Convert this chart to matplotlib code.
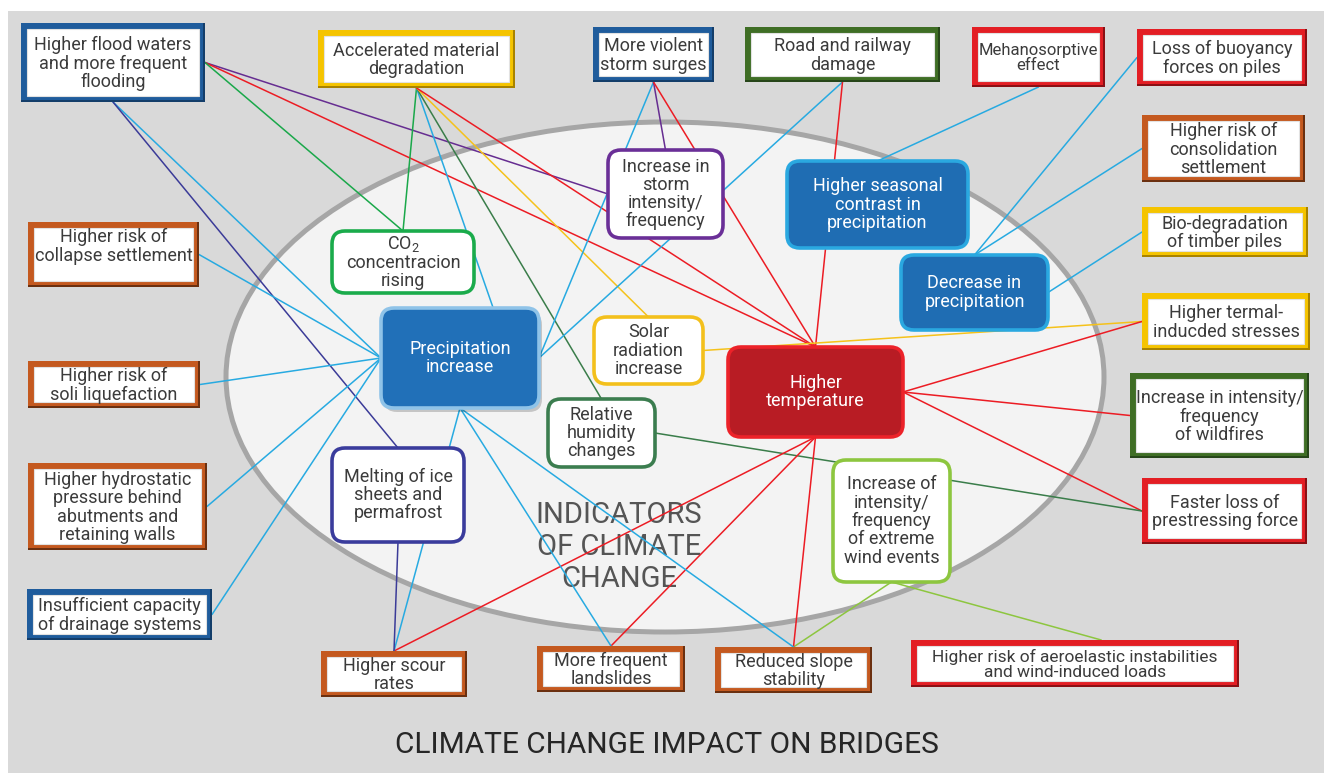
import matplotlib.pyplot as plt
from matplotlib.patches import Rectangle, FancyBboxPatch, Ellipse

plt.rcParams['font.family'] = ['Roboto', 'DejaVu Sans']
plt.rcParams['mathtext.default'] = 'regular'

W, H = 1326, 773

# impact boxes round the edge (x0, y0, x1, y1 in picture pixels)
outer_keys = ['flood', 'accel', 'surge', 'road', 'mehano', 'buoy', 'consol', 'bio',
              'thermal', 'wildfire', 'faster', 'aero', 'slope', 'landslide', 'scour',
              'drain', 'hydro', 'liquef', 'collapse']
outer_labels = ['Higher flood waters\nand more frequent\nflooding',
                'Accelerated material\ndegradation',
                'More violent\nstorm surges',
                'Road and railway\ndamage',
                'Mehanosorptive\neffect',
                'Loss of buoyancy\nforces on piles',
                'Higher risk of\nconsolidation\nsettlement',
                'Bio-degradation\nof timber piles',
                'Higher termal-\ninducded stresses',
                'Increase in intensity/\nfrequency\nof wildfires',
                'Faster loss of\nprestressing force',
                'Higher risk of aeroelastic instabilities\nand wind-induced loads',
                'Reduced slope\nstability',
                'More frequent\nlandslides',
                'Higher scour\nrates',
                'Insufficient capacity\nof drainage systems',
                'Higher hydrostatic\npressure behind\nabutments and\nretaining walls',
                'Higher risk of\nsoli liquefaction',
                'Higher risk of\ncollapse settlement\n ']
outer_boxes = [(21, 23, 205, 102), (318, 30, 515, 88), (593, 27, 714, 82),
               (745, 27, 940, 82), (972, 27, 1105, 87), (1137, 29, 1307, 86),
               (1142, 115, 1305, 182), (1142, 207, 1308, 257), (1142, 293, 1310, 350),
               (1130, 373, 1309, 458), (1142, 478, 1307, 544), (911, 640, 1239, 687),
               (715, 647, 872, 693), (537, 646, 685, 692), (321, 651, 467, 697),
               (27, 589, 212, 640), (28, 463, 207, 550), (28, 361, 200, 408),
               (28, 222, 199, 287)]
outer_frame = ['blue', 'yellow', 'blue', 'green', 'red', 'red', 'brown', 'yellow',
               'yellow', 'green', 'red', 'red', 'brown', 'brown', 'brown', 'blue',
               'brown', 'brown', 'brown']

# climate indicators inside the ellipse
inner_keys = ['storm', 'seasonal', 'decrease', 'co2', 'precip', 'solar', 'temp',
              'humid', 'melt', 'wind']
inner_labels = ['Increase in\nstorm\nintensity/\nfrequency',
                'Higher seasonal\ncontrast in\nprecipitation',
                'Decrease in\nprecipitation',
                'CO$_2$\nconcentracion\nrising',
                'Precipitation\nincrease',
                'Solar\nradiation\nincrease',
                'Higher\ntemperature',
                'Relative\nhumidity\nchanges',
                'Melting of ice\nsheets and\npermafrost',
                'Increase of\nintensity/\nfrequency\nof extreme\nwind events']
inner_boxes = [(608, 150, 723, 238), (787, 161, 968, 248), (901, 255, 1048, 330),
               (332, 231, 474, 293), (381, 308, 539, 408), (594, 317, 703, 384),
               (728, 347, 903, 437), (548, 399, 655, 467), (332, 448, 464, 542),
               (833, 460, 950, 582)]
# (face, edge)
inner_style = [('white', '#6a2f97'), ('#1f6db3', '#2aa8e0'), ('#1f6db3', '#2aa8e0'),
               ('white', '#1aab4b'), ('#2170b8', '#8fc3e8'), ('white', '#f3c01c'),
               ('#b81c24', '#ec2229'), ('white', '#3b7d4f'), ('white', '#3a3c9c'),
               ('white', '#8dc63f')]

# links: source, side, target, side, colour
links = [('flood', 'R', 'storm', 'L', 'purple'), ('flood', 'R', 'temp', 'T', 'red'),
         ('flood', 'R', 'co2', 'T', 'green'), ('flood', 'B', 'precip', 'L', 'lblue'),
         ('flood', 'B', 'melt', 'T', 'indigo'),
         ('accel', 'B', 'co2', 'T', 'green'), ('accel', 'B', 'precip', 'T', 'lblue'),
         ('accel', 'B', 'humid', 'T', 'dgreen'), ('accel', 'B', 'solar', 'T', 'yellow'),
         ('accel', 'B', 'temp', 'T', 'red'),
         ('surge', 'B', 'precip', 'R', 'lblue'), ('surge', 'B', 'storm', 'T', 'purple'),
         ('surge', 'B', 'temp', 'T', 'red'),
         ('road', 'B', 'precip', 'R', 'lblue'), ('road', 'B', 'temp', 'T', 'red'),
         ('mehano', 'B', 'seasonal', 'T', 'lblue'),
         ('buoy', 'L', 'decrease', 'T', 'lblue'), ('consol', 'L', 'decrease', 'T', 'lblue'),
         ('bio', 'L', 'decrease', 'R', 'lblue'),
         ('solar', 'R', 'thermal', 'L', 'yellow'),
         ('temp', 'R', 'thermal', 'L', 'red'), ('temp', 'R', 'wildfire', 'L', 'red'),
         ('temp', 'R', 'faster', 'L', 'red'),
         ('humid', 'R', 'faster', 'L', 'dgreen'),
         ('wind', 'B', 'slope', 'T', 'lgreen'), ('wind', 'B', 'aero', 'T', 'lgreen'),
         ('temp', 'B', 'scour', 'T', 'red'), ('temp', 'B', 'landslide', 'T', 'red'),
         ('temp', 'B', 'slope', 'T', 'red'),
         ('precip', 'B', 'scour', 'T', 'lblue'), ('precip', 'B', 'landslide', 'T', 'lblue'),
         ('precip', 'B', 'slope', 'T', 'lblue'),
         ('melt', 'B', 'scour', 'T', 'indigo'),
         ('collapse', 'R', 'precip', 'L', 'lblue'), ('liquef', 'R', 'precip', 'L', 'lblue'),
         ('hydro', 'R', 'precip', 'L', 'lblue'), ('drain', 'R', 'precip', 'L', 'lblue')]
# anchors not at the middle of a side
anchor_frac = {('precip', 'T'): 0.71, ('aero', 'T'): 0.58}

line_col = {'lblue': '#27aae1', 'red': '#ec1c24', 'purple': '#662d91', 'green': '#1aa84a',
            'dgreen': '#3a7d4a', 'yellow': '#f5c21b', 'indigo': '#3b3b98', 'lgreen': '#8dc63f'}
frame_col = {'blue': ('#1f5c9c', '#143e6a'), 'yellow': ('#f5c400', '#a88300'),
             'green': ('#3f6e25', '#27461a'), 'red': ('#e31e24', '#8a1014'),
             'brown': ('#c4591f', '#6b3010')}
small_text = {'mehano': 12, 'aero': 12.5}

boxes = dict(zip(outer_keys + inner_keys, outer_boxes + inner_boxes))


def anchor(key, side):
    x0, y0, x1, y1 = boxes[key]
    f = anchor_frac.get((key, side), 0.5)
    if side == 'T':
        return x0 + f * (x1 - x0), y0
    if side == 'B':
        return x0 + f * (x1 - x0), y1
    if side == 'L':
        return x0, y0 + f * (y1 - y0)
    return x1, y0 + f * (y1 - y0)


fig = plt.figure(figsize=(W / 100, H / 100), dpi=100)
ax = fig.add_axes([0, 0, 1, 1])
ax.set_xlim(0, W)
ax.set_ylim(H, 0)
ax.axis('off')

ax.add_patch(Rectangle((8, 11), 1316, 762, fc='#d9d9d9', ec='none', zorder=0))
ax.add_patch(Ellipse((665, 377), 878, 510, fc='#f3f3f3', ec='#a6a6a6', lw=3.6, zorder=1))
ax.text(619, 547, 'INDICATORS\nOF CLIMATE\nCHANGE', ha='center', va='center',
        fontsize=21, color='#555555', linespacing=1.2, zorder=2)

for s, ss, t, ts, c in links:
    (xa, ya), (xb, yb) = anchor(s, ss), anchor(t, ts)
    ax.plot([xa, xb], [ya, yb], color=line_col[c], lw=1.1, zorder=3,
            solid_capstyle='round')

for key, lab, fr in zip(outer_keys, outer_labels, outer_frame):
    x0, y0, x1, y1 = boxes[key]
    w, h = x1 - x0, y1 - y0
    col, dark = frame_col[fr]
    ax.add_patch(Rectangle((x0, y0), w, h, fc=dark, ec='none', zorder=4))
    ax.add_patch(Rectangle((x0, y0), w - 2, h - 2, fc=col, ec='none', zorder=4))
    ax.add_patch(Rectangle((x0 + 6, y0 + 6), w - 12, h - 12, fc='white',
                           ec='#e2e2e2', lw=0.8, zorder=4))
    ax.text((x0 + x1) / 2, (y0 + y1) / 2 + 1, lab, ha='center', va='center',
            fontsize=small_text.get(key, 13), color='#3b3b3b', linespacing=1.02,
            zorder=5)

for key, lab, (fc, ec) in zip(inner_keys, inner_labels, inner_style):
    x0, y0, x1, y1 = boxes[key]
    if key == 'precip':
        ax.add_patch(FancyBboxPatch((x0 + 3, y0 + 4), x1 - x0, y1 - y0,
                                    boxstyle='round,pad=0,rounding_size=13',
                                    fc='#00000030', ec='none', zorder=4))
    ax.add_patch(FancyBboxPatch((x0, y0), x1 - x0, y1 - y0,
                                boxstyle='round,pad=0,rounding_size=13',
                                fc=fc, ec=ec, lw=2.6, zorder=4))
    tc = '#3b3b3b' if fc == 'white' else 'white'
    ax.text((x0 + x1) / 2, (y0 + y1) / 2, lab, ha='center', va='center',
            fontsize=13, color=tc, linespacing=1.02, zorder=5)

ax.text(667, 745, 'CLIMATE CHANGE IMPACT ON BRIDGES', ha='center', va='center',
        fontsize=21.5, color='#262626', zorder=5)

fig.savefig('out.png', dpi=100, facecolor='white')
